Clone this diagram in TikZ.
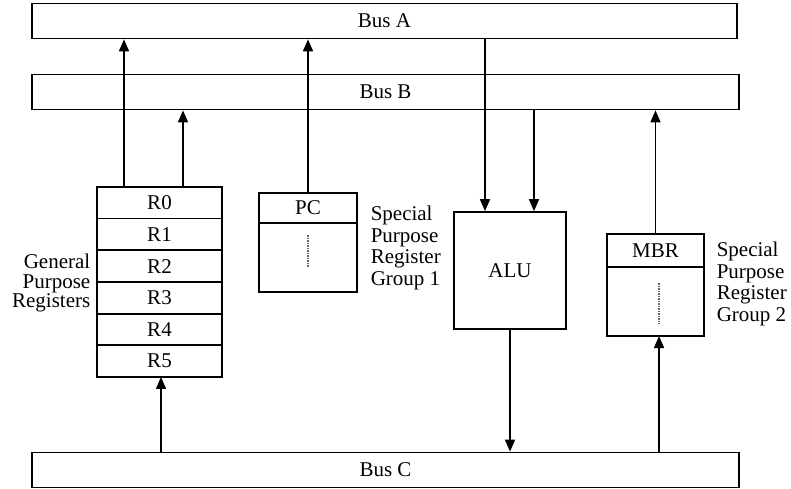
\documentclass[tikz,border=0pt]{standalone}
\usepackage{fontspec}
\setmainfont{Liberation Serif}
\usepackage{tikz}
\usetikzlibrary{positioning,arrows.meta}

\begin{document}
\begin{tikzpicture}[x=1pt,y=-1pt,line width=1.5pt,
    >={Triangle[length=12pt,width=10pt]},
    font=\fontsize{21}{22}\selectfont,
    bus/.style={draw,line width=1.7pt,minimum height=35pt,inner sep=0pt},
    reg/.style={draw,line width=1.7pt,minimum width=125pt,minimum height=31.67pt,inner sep=0pt,outer sep=0pt},
    sreg/.style={draw,line width=1.7pt,minimum width=98pt,inner sep=0pt,outer sep=0pt},
    lbl/.style={inner sep=0pt,align=left},
    dots/.style={line width=1.4pt,black!60,dash pattern=on 1.5pt off 1pt}]
  \useasboundingbox (0,0) rectangle (791,488);
  % buses
  \node[bus,minimum width=705pt] (busA) at (384.5,21) {Bus A};
  \node[bus,minimum width=707pt] (busB) at (385.5,92) {Bus B};
  \node[bus,minimum width=707pt] (busC) at (385.5,470) {Bus C};
  % general purpose registers
  \foreach \i in {0,...,5}
    \node[reg] (r\i) at (159.5,202.8+31.67*\i) {R\i};
  \node[lbl,align=right,anchor=east,font=\fontsize{21}{19.5}\selectfont]
     (gpr) at (91,283) {General\\Purpose\\Registers};
  % special purpose group 1
  \node[sreg,minimum height=30pt] (pc) at (308,208) {PC};
  \node[sreg,minimum height=69pt,below=0pt of pc] (pcg) {};
  \draw[dots] ([yshift=-12pt]pcg.north) -- ([yshift=-44pt]pcg.north);
  \node[lbl,anchor=west,font=\fontsize{21}{21.7}\selectfont]
     (grp1) at (370,248) {Special\\Purpose\\Register\\Group 1};
  % ALU
  \node[draw,line width=1.7pt,minimum width=112pt,minimum height=117pt,inner sep=0pt]
     (alu) at (510,270.5) {ALU};
  % special purpose group 2
  \node[sreg,minimum width=97pt,minimum height=33pt] (mbr) at (655.5,250.5) {MBR};
  \node[sreg,minimum width=97pt,minimum height=69pt,below=0pt of mbr] (mbrg) {};
  \draw[dots] ([xshift=3.5pt,yshift=-16pt]mbrg.north) -- ([xshift=3.5pt,yshift=-57pt]mbrg.north);
  \node[lbl,anchor=west,font=\fontsize{21}{21.7}\selectfont]
     (grp2) at (716,284) {Special\\Purpose\\Register\\Group 2};
  % connections
  \draw[->] ([xshift=-35.5pt]r0.north) -- ([xshift=-35.5pt]r0.north |- busA.south);
  \draw[->] ([xshift=23.5pt]r0.north) -- ([xshift=23.5pt]r0.north |- busB.south);
  \draw[->] ([xshift=1.5pt]r5.south |- busC.north) -- ([xshift=1.5pt]r5.south);
  \draw[->] (pc.north) -- (pc.north |- busA.south);
  \draw[->] ([xshift=-25pt]alu.north |- busA.south) -- ([xshift=-25pt]alu.north);
  \draw[->] ([xshift=24pt]alu.north |- busB.south) -- ([xshift=24pt]alu.north);
  \draw[->] (alu.south) -- (alu.south |- busC.north);
  \draw[->] (mbr.north) -- (mbr.north |- busB.south);
  \draw[->] ([xshift=3.5pt]mbrg.south |- busC.north) -- ([xshift=3.5pt]mbrg.south);
\end{tikzpicture}
\end{document}
